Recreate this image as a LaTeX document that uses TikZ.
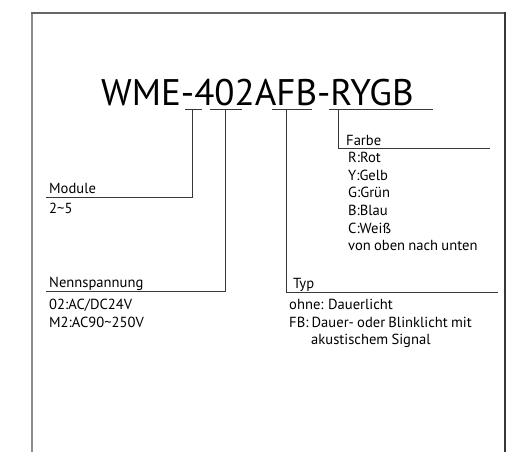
\documentclass[tikz,border=0pt]{standalone}
\usepackage{fontspec}
\setmainfont{PT Sans}
\begin{document}
\begin{tikzpicture}[x=1pt,y=-1pt,
  lbl/.style={anchor=base west,inner sep=0pt,font={\fontsize{14.6}{17}\selectfont\spaceskip=0.22em\relax}},
  conn/.style={draw=black!78,line width=0.9pt},
  frameleft/.style={draw=black!45,line width=2pt},
  frametop/.style={draw=black!60,line width=1.4pt},
  frameright/.style={draw=black!78,line width=1.4pt}]
\useasboundingbox (0,0) rectangle (506,452);
\draw[frameleft] (32,452) -- (32,12.3);
\draw[frametop] (31,13) -- (505,13);
\draw[frameright] (505,12.3) -- (505,452);
\node[anchor=base west,inner sep=0pt,font=\fontsize{37}{42}\selectfont] (title) at (101,105) {WME-402AFB-RYGB};
% underline bars
\coordinate (m1) at (185,109.5); \coordinate (m2) at (202,109.5); \coordinate (mt) at (192,109.5);
\coordinate (n1) at (210,109.5); \coordinate (n2) at (242,109.5); \coordinate (nt) at (225,109.5);
\coordinate (t1) at (272,109.5); \coordinate (t2) at (312,109.5); \coordinate (tt) at (286,109.5);
\coordinate (f1) at (329,109.5); \coordinate (f2) at (433,109.5); \coordinate (ft) at (338.5,109.5);
% label line corners
\coordinate (mc) at (192,197); \coordinate (me) at (46,197);
\coordinate (nc) at (225,291); \coordinate (ne) at (46,291);
\coordinate (tc) at (286,292.5); \coordinate (te) at (498,292.5);
\coordinate (fc) at (338.5,148); \coordinate (fe) at (490,148);
\draw[conn] (m1) -- (m2); \draw[conn] (mt) -- (mc) -- (me);
\draw[conn] (n1) -- (n2); \draw[conn] (nt) -- (nc) -- (ne);
\draw[conn] (t1) -- (t2); \draw[conn] (tt) -- (tc) -- (te);
\draw[conn] (f1) -- (f2); \draw[conn] (ft) -- (fc) -- (fe);
% Module
\node[lbl] (modl) at (49,193) {Module};
\node[lbl] (modv) at (49,213.5) {2\textasciitilde5};
% Nennspannung
\node[lbl] (nenl) at (49,287) {Nennspannung};
\node[lbl] (nen1) at (49,309.5) {02:AC/DC24V};
\node[lbl] (nen2) at (49,327) {M2:AC90\textasciitilde250V};
% Typ
\node[lbl] (typl) at (293,288.5) {Typ};
\node[lbl] (typ1) at (289,309.5) {ohne: Dauerlicht};
\node[lbl] (typ2) at (289,327) {FB: Dauer- oder Blinklicht mit};
\node[lbl] (typ3) at (311,344.5) {akustischem Signal};
% Farbe
\node[lbl] (farl) at (346,145) {Farbe};
\node[lbl] (far1) at (348,162.5) {R:Rot};
\node[lbl] (far2) at (348,180) {Y:Gelb};
\node[lbl] (far3) at (348,197.5) {G:Grün};
\node[lbl] (far4) at (348,215.5) {B:Blau};
\node[lbl] (far5) at (348,233) {C:Weiß};
\node[lbl] (far6) at (348,250.5) {von oben nach unten};
\end{tikzpicture}
\end{document}
